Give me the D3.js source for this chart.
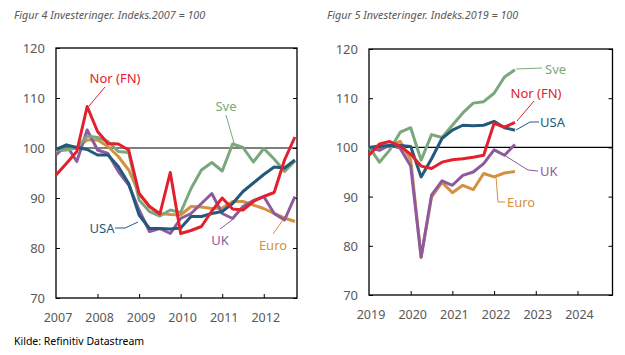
<!DOCTYPE html>
<html><head><meta charset="utf-8">
<script src="https://cdn.jsdelivr.net/npm/d3@7"></script>
<style>body{margin:0;background:#fff}svg{display:block}text{font-family:"Noto Sans",sans-serif}</style>
</head><body>
<svg id="c" width="625" height="355"></svg>
<script>
// ---------- data ----------
const yTicks = [70, 80, 90, 100, 110, 120];
// Figure 4: quarterly 2007Q1 - 2012Q4
const years4 = [2007, 2008, 2009, 2010, 2011, 2012];
const nor4  = [94.6,96.9,99.3,108.3,103.3,100.9,100.8,99.6,90.9,88.3,86.8,95.1,82.9,83.5,84.3,87.4,90.0,87.8,87.6,89.3,90.3,91.1,97.6,102.2];
const sve4  = [99.6,99.6,100.0,102.4,102.1,101.3,99.3,99.1,89.6,87.3,86.4,87.6,87.1,91.9,95.6,97.1,95.4,100.8,100.1,97.2,99.9,97.8,95.3,97.4];
const usa4  = [99.7,100.6,100.1,99.7,98.6,98.6,96.3,92.9,86.6,83.9,83.9,83.8,84.0,86.3,86.3,86.9,87.3,88.9,91.3,93.0,94.7,96.2,96.0,97.6];
const uk4   = [98.6,100.6,97.3,103.6,99.6,98.9,95.3,92.6,87.6,83.3,83.9,82.9,85.9,86.9,88.9,90.9,86.9,85.9,88.3,89.5,90.3,86.9,85.6,90.3];
const euro4 = [99.3,99.7,100.1,101.6,101.6,100.3,98.3,95.6,90.9,88.3,86.9,86.7,86.6,88.3,88.2,87.9,88.0,89.3,89.3,88.6,87.9,86.9,86.0,85.3];
// Figure 5: quarterly 2019Q1 - 2022Q3
const years5 = [2019, 2020, 2021, 2022, 2023, 2024];
const nor5  = [98.4,100.7,101.2,100.2,98.6,96.2,95.7,97.0,97.5,97.7,98.0,98.4,104.9,104.1,105.1];
const sve5  = [100.1,97.0,99.5,103.1,104.0,97.4,102.6,102.0,104.5,107.0,109.0,109.3,111.0,114.3,115.8];
const usa5  = [100.0,100.3,100.4,100.4,100.2,94.0,97.7,101.8,103.5,104.5,104.4,104.5,105.3,104.0,103.5];
const uk5   = [100.0,99.4,100.5,99.8,96.2,77.7,90.3,93.2,92.3,94.3,95.0,96.7,99.5,98.4,100.6];
const euro5 = [99.8,99.6,100.3,101.2,97.5,77.6,89.9,92.9,90.8,92.3,91.4,94.7,94.0,94.8,95.1];

const colors = {nor:"#e3202e", sve:"#7ba77c", usa:"#235a7c", uk:"#8d5b9d", euro:"#d4913e"};

const svg = d3.select("#c");
const grey = "#595959";

function panel(cfg){
  const g = svg.append("g");
  const x = d3.scaleLinear().domain(cfg.xd).range([cfg.l, cfg.r]);
  const y = d3.scaleLinear().domain([70,120]).range([cfg.b, cfg.t]);
  // title
  g.append("text").attr("x", cfg.tx).attr("y", 19).attr("font-size", 10.8)
    .attr("font-style","italic").attr("fill", grey).text(cfg.title);
  // y labels
  yTicks.forEach(v=>{
    g.append("text").attr("x", cfg.l-11).attr("y", y(v)+5).attr("text-anchor","end")
      .attr("font-size",13).attr("fill",grey).text(v);
  });
  // x labels
  cfg.years.forEach(v=>{
    g.append("text").attr("x", x(v)+2).attr("y", cfg.b+24).attr("text-anchor","middle")
      .attr("font-size",12.5).attr("fill",grey).text(v);
  });
  // axes via d3
  const ax = d3.axisBottom(x).tickValues(cfg.years.slice(1)).tickSize(-4).tickFormat("");
  g.append("g").attr("transform",`translate(0,${cfg.b})`).call(ax)
    .call(s=>{s.select(".domain").remove(); s.selectAll("line").attr("stroke","#000");});
  const ayl = d3.axisLeft(y).tickValues(yTicks).tickSize(-4).tickFormat("");
  g.append("g").attr("transform",`translate(${cfg.l},0)`).call(ayl)
    .call(s=>{s.select(".domain").remove(); s.selectAll("line").attr("stroke","#000");});
  const ayr = d3.axisRight(y).tickValues(yTicks).tickSize(-4).tickFormat("");
  g.append("g").attr("transform",`translate(${cfg.r},0)`).call(ayr)
    .call(s=>{s.select(".domain").remove(); s.selectAll("line").attr("stroke","#000");});
  // frame
  g.append("rect").attr("x",cfg.l).attr("y",cfg.t).attr("width",cfg.r-cfg.l).attr("height",cfg.b-cfg.t)
    .attr("fill","none").attr("stroke","#000").attr("stroke-width",1.3);
  g.append("line").attr("x1",cfg.l).attr("x2",cfg.r).attr("y1",y(100)).attr("y2",y(100))
    .attr("stroke","#000").attr("stroke-width",1.2);
  // series
  const line = d3.line().x((d,i)=>x(cfg.xd[0]+i/4)).y(d=>y(d));
  cfg.series.forEach(s=>{
    g.append("path").datum(s.data).attr("d",line).attr("fill","none")
      .attr("stroke",s.color).attr("stroke-width",3).attr("stroke-linejoin","round");
  });
  // labels with leaders (pixel annotations)
  cfg.labels.forEach(lb=>{
    g.append("polyline").attr("points",lb.leader.map(p=>p.join(",")).join(" "))
      .attr("fill","none").attr("stroke",lb.color).attr("stroke-width",1);
    g.append("text").attr("x",lb.x).attr("y",lb.y).attr("text-anchor",lb.anchor||"middle")
      .attr("font-size",13).attr("fill",lb.color).text(lb.text);
  });
  return {x,y};
}

panel({
  title:"Figur 4 Investeringer. Indeks.2007 = 100", tx:14,
  l:56, r:297, t:48, b:298, xd:[2007,2012.8], years:years4,
  series:[
    {data:euro4,color:colors.euro},{data:uk4,color:colors.uk},{data:sve4,color:colors.sve},
    {data:usa4,color:colors.usa},{data:nor4,color:colors.nor}],
  labels:[
    {text:"Nor (FN)",color:colors.nor,x:115,y:83,leader:[[105,87],[89,106]]},
    {text:"Sve",color:colors.sve,x:226,y:111,leader:[[226,115],[234,143]]},
    {text:"USA",color:colors.usa,x:102,y:233,leader:[[115,228],[125,228],[138,222]]},
    {text:"UK",color:colors.uk,x:220,y:245,leader:[[220,229],[232,220]]},
    {text:"Euro",color:colors.euro,x:273,y:250,leader:[[273,234],[283,220]]}
  ]
});

panel({
  title:"Figur 5 Investeringer. Indeks.2019 = 100", tx:327,
  l:369, r:612.5, t:49, b:295, xd:[2019,2024.84], years:years5,
  series:[
    {data:euro5,color:colors.euro},{data:uk5,color:colors.uk},{data:sve5,color:colors.sve},
    {data:usa5,color:colors.usa},{data:nor5,color:colors.nor}],
  labels:[
    {text:"Sve",color:colors.sve,x:545,y:74,anchor:"start",leader:[[516,69],[542,68]]},
    {text:"Nor (FN)",color:colors.nor,x:536,y:98,leader:[[534,101],[517,121]]},
    {text:"USA",color:colors.usa,x:540,y:127,anchor:"start",leader:[[516,130],[530,122],[539,122]]},
    {text:"UK",color:colors.uk,x:540,y:176,anchor:"start",leader:[[496,150],[528,170],[538,171]]},
    {text:"Euro",color:colors.euro,x:507,y:207,anchor:"start",leader:[[496,177],[498,202],[505,202]]}
  ]
});

svg.append("text").attr("x",14).attr("y",345).attr("font-size",10.5).attr("fill","#000")
  .text("Kilde: Refinitiv Datastream");
</script>
</body></html>
